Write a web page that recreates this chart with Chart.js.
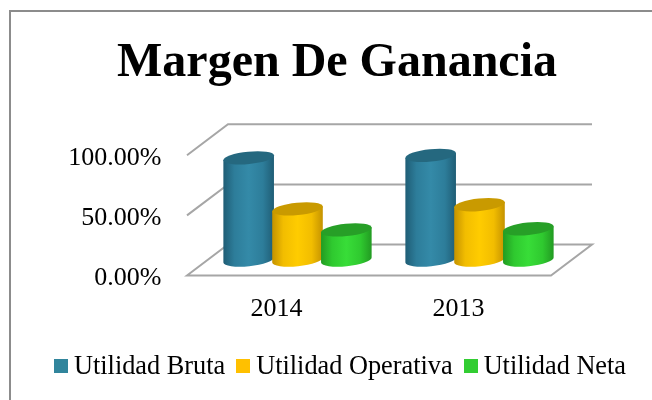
<!DOCTYPE html>
<html>
<head>
<meta charset="utf-8">
<style>
  html, body { margin: 0; padding: 0; background: #fff; }
  #wrap { position: relative; width: 652px; height: 400px; overflow: hidden; }
  #frame { position: absolute; left: 9px; top: 10px; right: 0; bottom: 0;
           border-left: 2px solid #8c8c8c; border-top: 2px solid #8c8c8c; }
  #legend { position: absolute; left: 54px; top: 351px; display: flex; align-items: center;
            font: 26.3px "Liberation Serif", serif; color: #000; white-space: nowrap; }
  #legend span.box { display: inline-block; width: 14px; height: 14px; margin-right: 6px; }
  #legend span.item { display: flex; align-items: center; margin-right: 11px; }
  canvas { position: absolute; left: 0; top: 0; }
</style>
<script src="https://cdn.jsdelivr.net/npm/chart.js@4/dist/chart.umd.js"></script>
</head>
<body>
<div id="wrap">
  <div id="frame"></div>
  <canvas id="marginChart" width="652" height="400"></canvas>
  <div id="legend"></div>
</div>
<script>
const years = ["2014", "2013"];
const utilidadBruta = [85, 87];
const utilidadOperativa = [42.5, 46];
const utilidadNeta = [25, 26];
const yTicks = [0, 50, 100];

const legendColors = ["#31859c", "#ffc000", "#32cd32"];
const edgeColors = ["#1f5d75", "#c49200", "#229a22"];
const shoulderColors = ["#2d7d9a", "#f2bd00", "#2fc92f"];
const midColors = ["#348aa8", "#ffcc00", "#38dd38"];
const topColors = ["#25687f", "#c99a00", "#279f27"];

// half of the 3D depth, the bars stand in the middle plane
const depthX = 20.5;
const depthY = 15.5;
const wallShift = 1;
const tilt = -0.1;
const capHeight = 6.2;

function paintCylinders(ctx, meta, i) {
    meta.data.forEach(bar => {
        // one px wider than the bar so neighbours overlap a little
        const rx = bar.width / 2 + 1;
        const dx = rx * Math.cos(tilt);
        const dy = rx * Math.sin(tilt);

        const grad = ctx.createLinearGradient(bar.x - rx, 0, bar.x + rx, 0);
        grad.addColorStop(0, edgeColors[i]);
        grad.addColorStop(0.22, shoulderColors[i]);
        grad.addColorStop(0.5, midColors[i]);
        grad.addColorStop(0.78, shoulderColors[i]);
        grad.addColorStop(1, edgeColors[i]);

        ctx.beginPath();
        ctx.moveTo(bar.x - dx, bar.y - dy);
        ctx.lineTo(bar.x - dx, bar.base - dy);
        ctx.ellipse(bar.x, bar.base, rx, capHeight, tilt, Math.PI, 0, true);
        ctx.lineTo(bar.x + dx, bar.y + dy);
        ctx.closePath();
        ctx.fillStyle = grad;
        ctx.fill();

        ctx.beginPath();
        ctx.ellipse(bar.x, bar.y, rx, capHeight, tilt, 0, Math.PI * 2);
        ctx.fillStyle = topColors[i];
        ctx.fill();
    });
}

// bar controller that paints each bar as a cylinder
class CylinderController extends Chart.BarController {
    draw() {
        // datasets draw last to first, but here the left bar has to be at the back
        if (this.index !== 0) return;
        const chart = this.chart;
        chart.data.datasets.forEach((ds, i) => {
            paintCylinders(chart.ctx, chart.getDatasetMeta(i), i);
        });
    }
}
CylinderController.id = "cylinder";
CylinderController.defaults = Chart.BarController.defaults;
Chart.register(CylinderController);

const wallsPlugin = {
    id: "walls",
    beforeDatasetsDraw(chart) {
        const ctx = chart.ctx;
        const y = chart.scales.y;
        const left = chart.chartArea.left + wallShift;
        const right = chart.chartArea.right + wallShift;
        ctx.save();
        ctx.strokeStyle = "#a6a6a6";
        ctx.lineWidth = 2;
        yTicks.forEach(v => {
            const py = y.getPixelForValue(v);
            ctx.beginPath();
            ctx.moveTo(left - depthX, py + depthY);
            ctx.lineTo(left + depthX, py - depthY);
            ctx.lineTo(right + depthX, py - depthY);
            if (v === 0) {
                ctx.lineTo(right - depthX, py + depthY);
                ctx.closePath();
            }
            ctx.stroke();
        });
        ctx.restore();
    }
};

const seriesNames = ["Utilidad Bruta", "Utilidad Operativa", "Utilidad Neta"];
const seriesValues = [utilidadBruta, utilidadOperativa, utilidadNeta];

const serif = "'Liberation Serif', serif";

new Chart(document.getElementById("marginChart"), {
    type: "cylinder",
    plugins: [wallsPlugin],
    data: {
        labels: years,
        datasets: seriesNames.map((name, i) => ({
            label: name,
            data: seriesValues[i],
            backgroundColor: legendColors[i],
            clip: false
        }))
    },
    options: {
        responsive: false,
        animation: false,
        // left padding keeps the title centred where the original has it
        layout: { padding: { left: 22, right: 0, top: 0, bottom: 0 } },
        categoryPercentage: 0.805,
        barPercentage: 1,
        plugins: {
            legend: { display: false },
            tooltip: { enabled: false },
            title: {
                display: true,
                text: "Margen De Ganancia",
                color: "#000",
                font: { family: serif, size: 48, weight: "bold", lineHeight: 1.2 },
                padding: { top: 35, bottom: 47.2 }
            }
        },
        scales: {
            x: {
                type: "category",
                offset: true,
                grid: { display: false },
                border: { display: false },
                ticks: {
                    color: "#000",
                    font: { family: serif, size: 26 },
                    labelOffset: -21,
                    padding: 26,
                    maxRotation: 0
                },
                afterFit(axis) { axis.height = 140; }
            },
            y: {
                min: 0,
                max: 100,
                grid: { display: false },
                border: { display: false },
                afterBuildTicks(axis) { axis.ticks = yTicks.map(v => ({ value: v })); },
                ticks: {
                    color: "#000",
                    font: { family: serif, size: 26 },
                    labelOffset: 18,
                    padding: 37,
                    callback: v => v.toFixed(2) + "%"
                },
                afterFit(axis) { axis.width = 184.5; }
            },
            // empty axis, only holds the room to the right of the floor
            spacer: {
                type: "linear",
                position: "right",
                grid: { display: false },
                border: { display: false },
                ticks: { display: false },
                afterFit(axis) { axis.width = 81.5; }
            }
        }
    }
});

// legend with the tight spacing of the original
const legend = document.getElementById("legend");
seriesNames.forEach((name, i) => {
    const item = document.createElement("span");
    item.className = "item";
    const box = document.createElement("span");
    box.className = "box";
    box.style.background = legendColors[i];
    item.appendChild(box);
    item.appendChild(document.createTextNode(name));
    legend.appendChild(item);
});
</script>
</body>
</html>
